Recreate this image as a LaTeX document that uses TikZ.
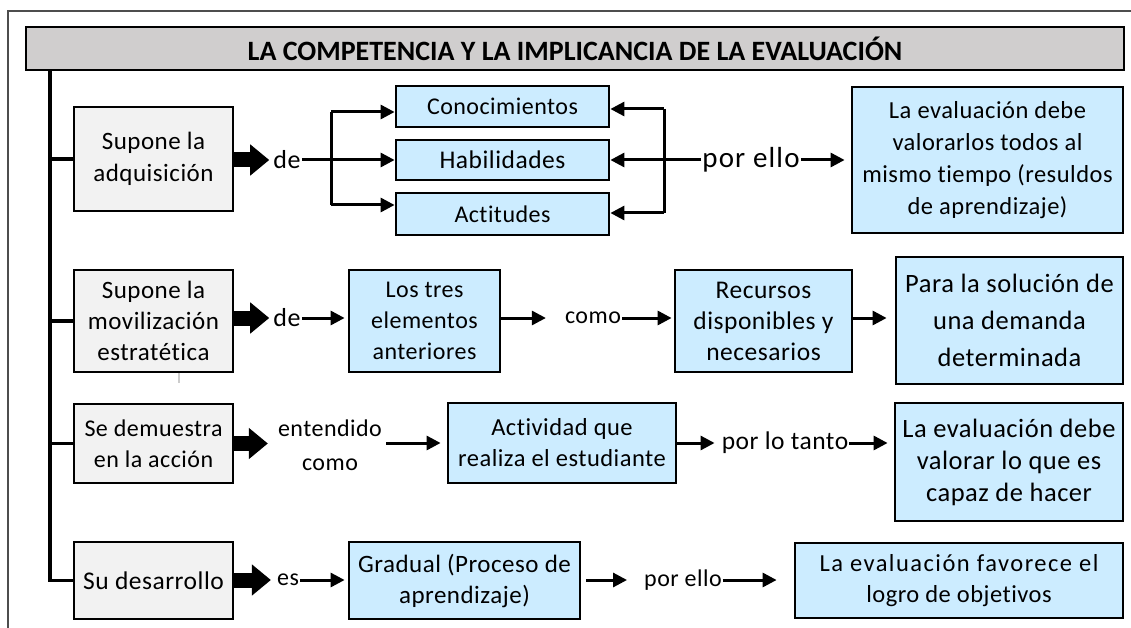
\documentclass[tikz,border=0pt]{standalone}
\usepackage{fontspec}
\setmainfont{Carlito}[LetterSpace=2,Ligatures=NoCommon]
\newfontfamily\titlefont{Carlito}[BoldFont={Carlito Bold},Ligatures=NoCommon]
\usetikzlibrary{arrows.meta}
\definecolor{boxblue}{HTML}{CCECFF}
\definecolor{boxgray}{HTML}{F2F2F2}
\definecolor{titlegray}{HTML}{D0CECE}
\definecolor{framegray}{HTML}{4D4D4D}
\begin{document}
\begin{tikzpicture}[x=1pt,y=-1pt,
  base/.style={draw=black, line width=2.8pt, align=center, inner sep=0pt, font=\fontsize{24}{31}\selectfont},
  graybox/.style={base, fill=boxgray},
  bluebox/.style={base, fill=boxblue},
  lbl/.style={inner sep=1pt, font=\fontsize{24}{31}\selectfont, align=center},
  thinarrow/.style={line width=3pt, -{Triangle[length=14pt,width=14pt]}},
  blockarrow/.style={line width=15pt, -{Triangle[length=19pt,width=30pt]}},
  plainline/.style={line width=3pt},
]
\useasboundingbox (0,0) rectangle (1131,628);
% outer frame
\draw[framegray, line width=1.6pt] (8,628) -- (8,11) -- (1131,11);
% title
\node[base, fill=titlegray, minimum width=1098pt, minimum height=43pt,
      font=\titlefont\bfseries\fontsize{28}{30}\selectfont] (title) at (575,48.5)
      {LA COMPETENCIA Y LA IMPLICANCIA DE LA EVALUACIÓN};
% left boxes
\node[graybox, minimum width=159pt, minimum height=104pt, font=\fontsize{25}{32}\selectfont] (g1) at (153.5,159) {Supone la\\adquisición};
\node[graybox, minimum width=159pt, minimum height=102pt, font=\fontsize{25}{31}\selectfont] (g2) at (153.5,321) {Supone la\\movilización\\estratética};
\node[graybox, minimum width=159pt, minimum height=79pt] (g3) at (153.5,443.5) {Se demuestra\\en la acción};
\node[graybox, minimum width=159pt, minimum height=77pt, font=\fontsize{25.5}{31}\selectfont] (g4) at (153.5,580.5) {Su desarrollo};
% bus
\coordinate (bt) at (50,70);
\draw[line width=3.2pt] (bt) |- (g4.west);
\draw[line width=3.2pt] (g1.west -| bt) -- (g1.west);
\draw[line width=3.2pt] (g2.west -| bt) -- (g2.west);
\draw[line width=3.2pt] (g3.west -| bt) -- (g3.west);
\draw[gray!40, line width=1.5pt] (179,373) -- (179,383);

% row 1
\node[lbl, font=\fontsize{26}{31}\selectfont] (de1) at (287,160) {de};
\node[bluebox, minimum width=213pt, minimum height=41pt] (c1) at (502.5,106.5) {Conocimientos};
\node[bluebox, minimum width=213pt, minimum height=40pt, font=\fontsize{25.5}{31}\selectfont] (c2) at (502.5,160) {Habilidades};
\node[bluebox, minimum width=213pt, minimum height=42pt] (c3) at (502.5,214) {Actitudes};
\node[lbl, font=\fontsize{29}{31}\selectfont\addfontfeature{LetterSpace=4}] (pe1) at (751,160) {por ello};
\node[bluebox, minimum width=271pt, minimum height=146pt, font=\fontsize{24.5}{32}\selectfont] (e1) at (987.5,160)
  {La evaluación debe\\valorarlos todos al\\mismo tiempo (resuldos\\de aprendizaje)};
\draw[blockarrow, shorten >=3pt] (g1.east |- de1) -- (de1.west);
\coordinate (j1) at (331,112);
\coordinate (j3) at (331,205);
\draw[plainline] (j1) -- (j3);
\draw[plainline] (de1.east) -- (de1.east -| j1);
\draw[thinarrow] (j1) -- (j1 -| c1.west);
\draw[thinarrow] (de1.east -| j1) -- (de1.east -| c2.west);
\draw[thinarrow] (j3) -- (j3 -| c3.west);
\coordinate (k1) at (664,109);
\coordinate (k3) at (664,213);
\draw[plainline] (k1) -- (k3);
\draw[thinarrow] (k1) -- (k1 -| c1.east);
\draw[thinarrow] (pe1.west -| k1) -- (pe1.west -| c2.east);
\draw[thinarrow] (k3) -- (k3 -| c3.east);
\draw[plainline] (pe1.west) -- (pe1.west -| k1);
\draw[thinarrow, shorten >=6pt] (pe1.east) -- (pe1.east -| e1.west);

% row 2
\node[lbl, font=\fontsize{26}{31}\selectfont] (de2) at (287,318) {de};
\node[bluebox, minimum width=151pt, minimum height=102pt] (b21) at (424.5,321) {Los tres\\elementos\\anteriores};
\node[lbl] (como) at (593,318) {como};
\node[bluebox, minimum width=177pt, minimum height=102pt, font=\fontsize{25.5}{31}\selectfont] (b22) at (763.5,321) {Recursos\\disponibles y\\necesarios};
\node[bluebox, minimum width=227pt, minimum height=127pt, font=\fontsize{26.5}{37}\selectfont] (b23) at (1009.5,320.5)
  {Para la solución de\\una demanda\\determinada};
\draw[blockarrow, shorten >=3pt] (g2.east |- de2) -- (de2.west);
\draw[thinarrow, shorten >=3pt] (de2.east) -- (de2.east -| b21.west);
\draw[thinarrow, shorten >=18pt] (de2 -| b21.east) -- (como.west);
\draw[thinarrow, shorten >=2pt] (como.east) -- (como.east -| b22.west);
\draw[thinarrow, shorten >=8pt] (como -| b22.east) -- (como -| b23.west);

% row 3
\node[lbl, font=\fontsize{24}{34}\selectfont] (ec) at (330,445) {entendido\\como};
\node[bluebox, minimum width=228pt, minimum height=80pt, font=\fontsize{24.5}{31}\selectfont] (b31) at (562,443) {Actividad que\\realiza el estudiante};
\node[lbl, font=\fontsize{25.5}{31}\selectfont] (plt) at (785,443) {por lo tanto};
\node[bluebox, minimum width=228pt, minimum height=118pt, font=\fontsize{26.5}{32}\selectfont] (b32) at (1009,462) {La evaluación debe\\valorar lo que es\\capaz de hacer};
\draw[blockarrow, shorten >=9pt] (g3.east) -- (g3.east -| ec.west);
\draw[thinarrow, shorten <=3pt, shorten >=6pt] (ec.east |- b31.west) -- (b31.west);
\draw[thinarrow, shorten >=6pt] (b31.east) -- (b31.east -| plt.west);
\draw[thinarrow, shorten >=6pt] (plt.east) -- (plt.east -| b32.west);

% row 4
\node[lbl] (es) at (288,580) {es};
\node[bluebox, minimum width=231pt, minimum height=77pt, font=\fontsize{25}{31}\selectfont] (b41) at (464.5,580.5) {Gradual (Proceso de\\aprendizaje)};
\node[lbl] (pe4) at (683,580) {por ello};
\node[bluebox, minimum width=328pt, minimum height=75pt, font=\fontsize{24.5}{31}\selectfont] (b42) at (959,580.5) {{\addfontfeature{LetterSpace=6}La evaluación favorece el}\\logro de objetivos};
\draw[blockarrow, shorten >=5pt] (g4.east |- es) -- (es.west);
\draw[thinarrow, shorten >=3pt] (es.east) -- (es.east -| b41.west);
\draw[thinarrow, shorten <=5pt, shorten >=16pt] (b41.east |- pe4) -- (pe4.west);
\draw[thinarrow, shorten >=17pt] (pe4.east) -- (pe4.east -| b42.west);
\end{tikzpicture}
\end{document}
